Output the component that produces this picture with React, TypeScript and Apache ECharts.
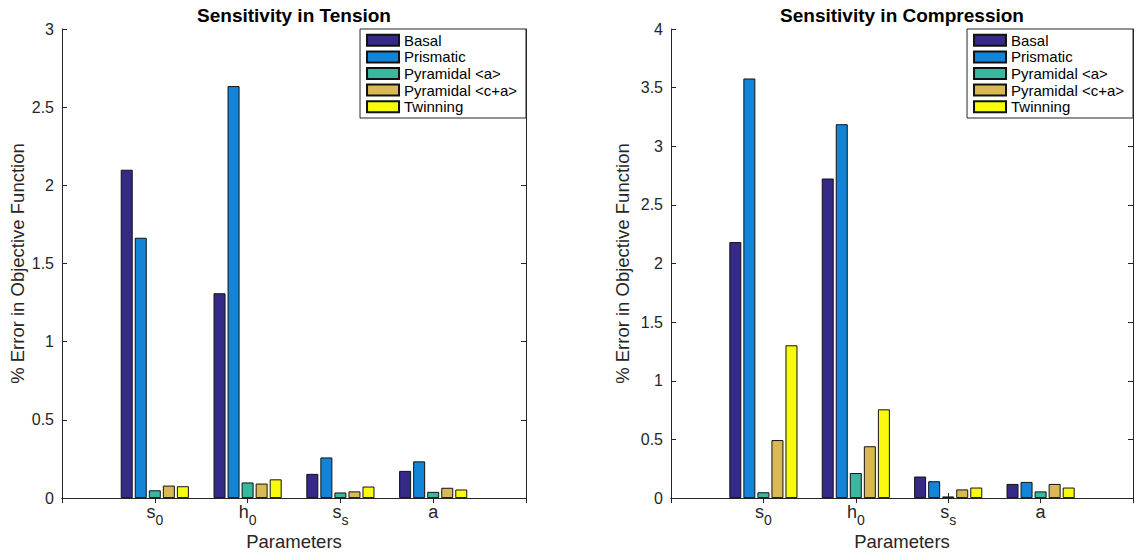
import React, { useEffect, useRef } from "react";
import * as echarts from "echarts";

const categories = ["s_0", "h_0", "s_s", "a"];
const seriesNames = ["Basal", "Prismatic", "Pyramidal <a>", "Pyramidal <c+a>", "Twinning"];
const seriesColors = ["#352A87", "#1285D8", "#37B89F", "#D9B955", "#F9FB0E"];

// Tension values per series (s0, h0, ss, a)
const tensionBasal = [2.1, 1.31, 0.155, 0.174];
const tensionPrismatic = [1.665, 2.635, 0.26, 0.235];
const tensionPyrA = [0.05, 0.1, 0.036, 0.04];
const tensionPyrCA = [0.08, 0.093, 0.043, 0.066];
const tensionTwin = [0.076, 0.12, 0.074, 0.055];

// Compression values per series (s0, h0, ss, a)
const compBasal = [2.183, 2.725, 0.184, 0.121];
const compPrismatic = [3.578, 3.188, 0.144, 0.138];
const compPyrA = [0.05, 0.214, 0.014, 0.057];
const compPyrCA = [0.495, 0.442, 0.074, 0.121];
const compTwin = [1.303, 0.757, 0.09, 0.09];

const tensionTicksMax = 3;
const compressionTicksMax = 4;
const tickStep = 0.5;

const FONT = "'Liberation Sans', Arial, Helvetica, sans-serif";
const AX = "#262626";

export default function App() {
  const ref = useRef<HTMLDivElement>(null);
  useEffect(() => {
    if (!ref.current) return;
    const chart = echarts.init(ref.current, null, { renderer: "svg" });
    const xData = ["", ...categories, ""];
    const pad = (arr: number[]) => ["-", ...arr, "-"];
    const tension = [tensionBasal, tensionPrismatic, tensionPyrA, tensionPyrCA, tensionTwin];
    const comp = [compBasal, compPrismatic, compPyrA, compPyrCA, compTwin];

    const labelFormatter = (v: string) => {
      if (!v) return "";
      const [b, s] = v.split("_");
      return s ? `{b|${b}}{sub|${s}}` : `{b|${b}}`;
    };

    const grids = [
      { left: 62, top: 29, width: 464, height: 472 },
      { left: 671, top: 29, width: 462, height: 472 },
    ];
    const maxes = [tensionTicksMax, compressionTicksMax];
    const yNameGaps = [35, 39];

    const xAxis: any[] = [];
    const yAxis: any[] = [];
    [0, 1].forEach((g) => {
      xAxis.push({
        type: "category",
        gridIndex: g,
        data: xData,
        boundaryGap: false,
        position: "bottom",
        axisLine: { lineStyle: { color: AX, width: 1 } },
        axisTick: { inside: true, length: 5, interval: 0, lineStyle: { color: AX } },
        axisLabel: {
          interval: 0,
          margin: 5,
          formatter: labelFormatter,
          rich: {
            b: { fontSize: 18, fontFamily: FONT, color: AX, lineHeight: 20, verticalAlign: "top" },
            sub: { fontSize: 14, fontFamily: FONT, color: AX, lineHeight: 16, verticalAlign: "top", padding: [10, 0, 0, 0] },
          },
        },
        name: "Parameters",
        nameLocation: "middle",
        nameGap: 32,
        nameTextStyle: { fontSize: 18.5, fontFamily: FONT, color: AX },
        splitLine: { show: false },
      });
      xAxis.push({
        type: "category",
        gridIndex: g,
        data: xData,
        boundaryGap: false,
        position: "top",
        axisLine: { lineStyle: { color: AX, width: 1 } },
        axisTick: { inside: true, length: 5, interval: 0, lineStyle: { color: AX } },
        axisLabel: { show: false },
        splitLine: { show: false },
      });
      yAxis.push({
        type: "value",
        gridIndex: g,
        min: 0,
        max: maxes[g],
        interval: tickStep,
        position: "left",
        axisLine: { show: true, lineStyle: { color: AX, width: 1 } },
        axisTick: { show: true, inside: true, length: 5, lineStyle: { color: AX } },
        axisLabel: { margin: 8, fontSize: 16, fontFamily: FONT, color: AX },
        splitLine: { show: false },
        name: "% Error in Objective Function",
        nameLocation: "middle",
        nameGap: yNameGaps[g],
        nameTextStyle: { fontSize: 18.5, fontFamily: FONT, color: AX },
      });
      yAxis.push({
        type: "value",
        gridIndex: g,
        min: 0,
        max: maxes[g],
        interval: tickStep,
        position: "right",
        axisLine: { show: true, lineStyle: { color: AX, width: 1 } },
        axisTick: { show: true, inside: true, length: 5, lineStyle: { color: AX } },
        axisLabel: { show: false },
        splitLine: { show: false },
      });
    });

    const series: any[] = [];
    [tension, comp].forEach((set, g) => {
      set.forEach((vals, i) => {
        series.push({
          type: "bar",
          name: seriesNames[i],
          xAxisIndex: g * 2,
          yAxisIndex: g * 2,
          data: pad(vals),
          barWidth: 12,
          barGap: "17%",
          itemStyle: { color: seriesColors[i], borderColor: "#111", borderWidth: 1 },
        });
      });
    });

    const legendBase = {
      orient: "vertical",
      top: 29,
      icon: "rect",
      itemWidth: 32,
      itemHeight: 11,
      itemGap: 0,
      padding: [3, 9, 3, 6],
      backgroundColor: "#fff",
      borderColor: AX,
      borderWidth: 1,
      borderRadius: 0,
      selectedMode: false,
      textStyle: { fontSize: 15, lineHeight: 16.6, color: "#000", fontFamily: FONT },
      data: seriesNames,
    };

    chart.setOption({
      animation: false,
      backgroundColor: "#fff",
      title: [
        {
          text: "Sensitivity in Tension",
          left: 294,
          top: 6,
          textAlign: "center",
          padding: 0,
          textStyle: { fontSize: 19, fontWeight: "bold", fontFamily: FONT, color: "#000" },
        },
        {
          text: "Sensitivity in Compression",
          left: 902,
          top: 6,
          textAlign: "center",
          padding: 0,
          textStyle: { fontSize: 19, fontWeight: "bold", fontFamily: FONT, color: "#000" },
        },
      ],
      legend: [
        { ...legendBase, right: 1139 - 526 },
        { ...legendBase, right: 1139 - 1133 },
      ],
      grid: grids,
      xAxis,
      yAxis,
      series,
    });
    return () => chart.dispose();
  }, []);
  return (
    <div
      ref={ref}
      style={{ position: "fixed", left: 0, top: 0, width: 1139, height: 556, background: "#fff" }}
    />
  );
}
